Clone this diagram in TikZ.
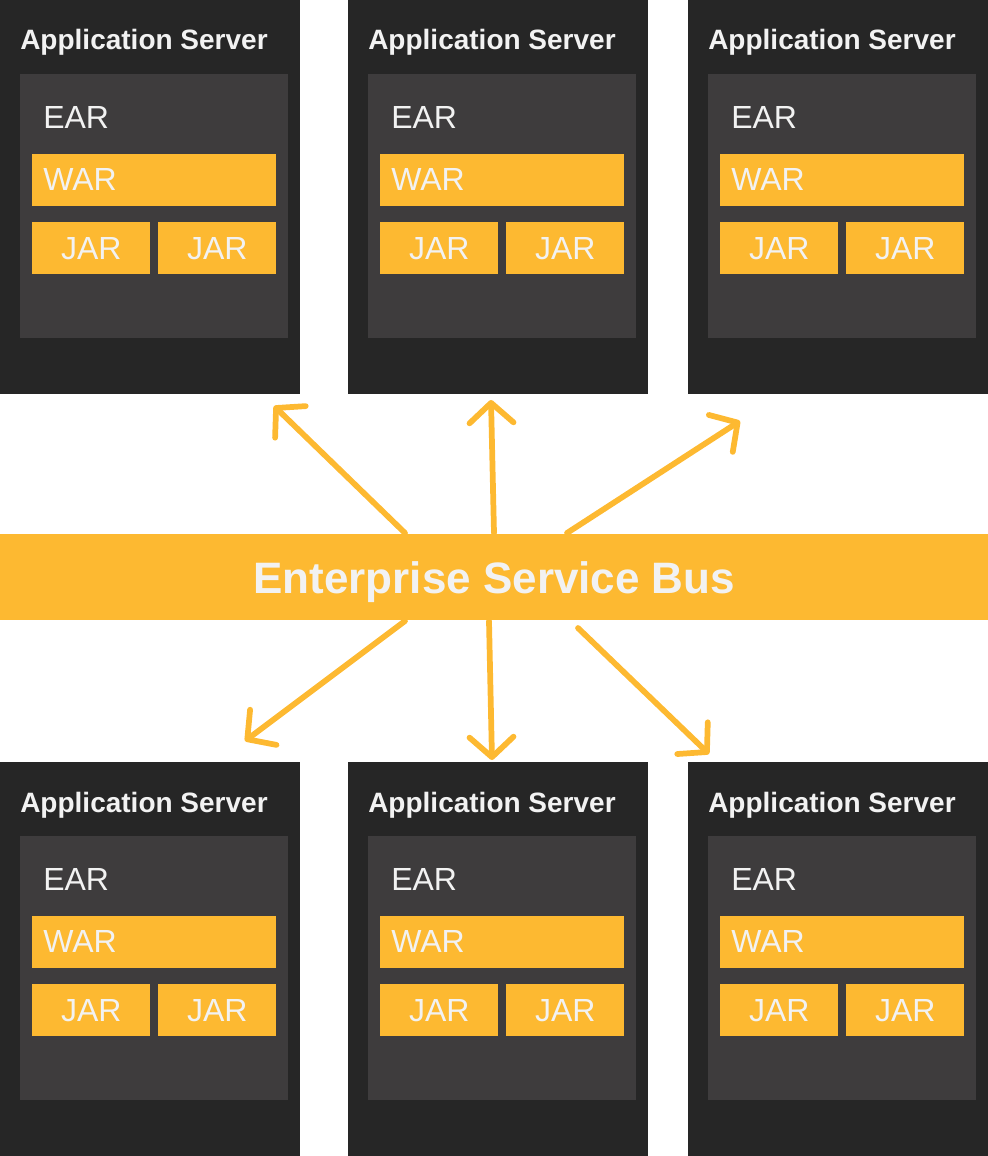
\documentclass[tikz,border=0pt]{standalone}
\usepackage{fontspec}
\setmainfont{Liberation Sans}
\usetikzlibrary{arrows.meta, positioning}

\definecolor{serverdark}{HTML}{262626}
\definecolor{eargrey}{HTML}{3E3C3D}
\definecolor{busyellow}{HTML}{FDB931}
\definecolor{labelwhite}{HTML}{F2F2F2}

\begin{document}
\begin{tikzpicture}[x=0.75pt, y=-0.75pt,
    server/.style={fill=serverdark, anchor=north west, minimum width=225pt, minimum height=295.5pt, inner sep=0},
    ear/.style={fill=eargrey, anchor=north west, minimum width=201pt, minimum height=198pt, inner sep=0},
    war/.style={fill=busyellow, anchor=north west, minimum width=183pt, minimum height=39pt, inner sep=0},
    jar/.style={fill=busyellow, anchor=north west, minimum width=88.5pt, minimum height=39pt, inner sep=0,
        text=labelwhite, text height=17pt, text depth=0pt, font=\fontsize{24}{24}\selectfont},
    title/.style={anchor=base west, inner sep=0, text=labelwhite, font=\bfseries\fontsize{21}{21}\selectfont},
    boxlabel/.style={anchor=base west, inner sep=0, text=labelwhite, font=\fontsize{24}{24}\selectfont},
    bus/.style={fill=busyellow, anchor=north west, minimum width=741pt, minimum height=64.5pt, inner sep=0,
        text=labelwhite, font=\bfseries\fontsize{33}{33}\selectfont},
    link/.style={draw=busyellow, line width=4.3pt, line cap=round, -{Straight Barb[length=15pt, width=33pt, round]}}
]
    \useasboundingbox (0,0) rectangle (988,1156);

    % Application servers
    \foreach \sx/\sy/\sn in {0/0/s1, 348/0/s2, 688/0/s3, 0/762/s4, 348/762/s5, 688/762/s6} {
        \node[server] (\sn) at (\sx,\sy) {};
        \node[title] (\sn-title) at (\sx+20,\sy+50) {Application Server};
        \node[ear] (\sn-ear) at (\sx+20,\sy+74) {};
        \node[boxlabel] (\sn-earlabel) at (\sx+43,\sy+128) {EAR};
        \node[war] (\sn-war) at (\sx+32,\sy+154) {};
        \node[boxlabel] (\sn-warlabel) at (\sx+43,\sy+190) {WAR};
        \node[jar] (\sn-jara) at (\sx+32,\sy+222) {JAR};
        \node[jar] (\sn-jarb) at (\sx+158,\sy+222) {JAR};
    }

    % Bus
    \node[bus, text height=24pt, text depth=0pt] (esb) at (0,534) {Enterprise Service Bus};

    % Links between bus and servers
    \coordinate (t1) at (405,533);  \coordinate (h1) at (274,406);
    \coordinate (t2) at (494,533);  \coordinate (h2) at (491,400);
    \coordinate (t3) at (567,533);  \coordinate (h3) at (740,421);
    \coordinate (t4) at (405,621);  \coordinate (h4) at (245,741);
    \coordinate (t5) at (489,621);  \coordinate (h5) at (492,760);
    \coordinate (t6) at (578,628);  \coordinate (h6) at (709,754);
    \foreach \i in {1,...,6}
        \draw[link] (t\i) -- (h\i);
\end{tikzpicture}
\end{document}
